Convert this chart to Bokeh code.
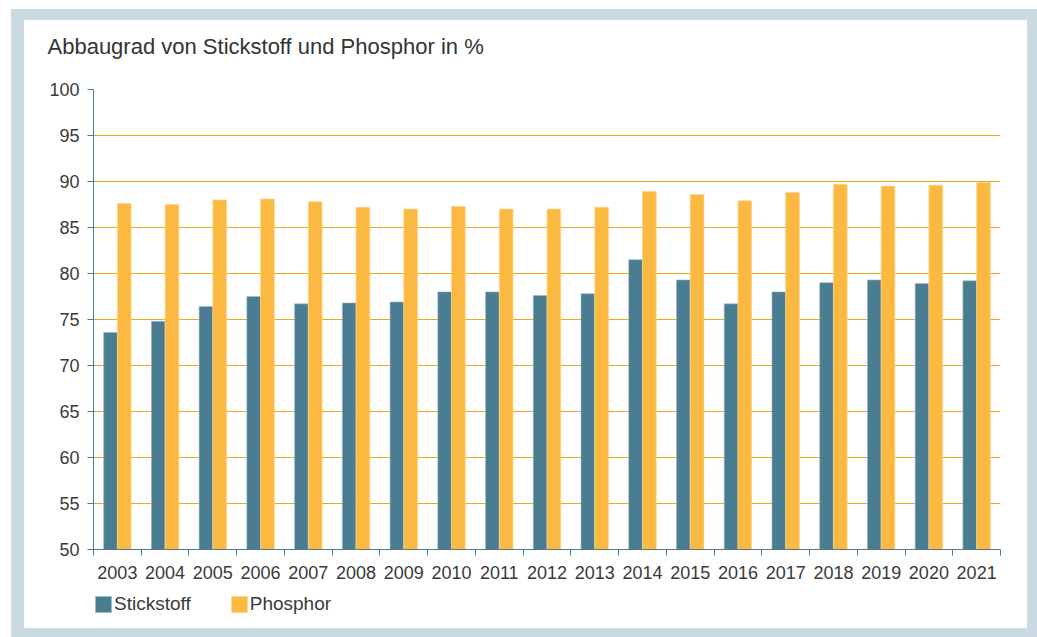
from bokeh.plotting import figure
from bokeh.layouts import column
from bokeh.models import (ColumnDataSource, Range1d, FixedTicker, Legend, LegendItem, Title)
from bokeh.embed import file_html
from bokeh.resources import INLINE

years = ["2003", "2004", "2005", "2006", "2007", "2008", "2009", "2010", "2011", "2012",
         "2013", "2014", "2015", "2016", "2017", "2018", "2019", "2020", "2021"]
stickstoff = [73.6, 74.8, 76.4, 77.5, 76.7, 76.8, 76.9, 78.0, 78.0, 77.6,
              77.8, 81.5, 79.3, 76.7, 78.0, 79.0, 79.3, 78.9, 79.2]
phosphor = [87.6, 87.5, 88.0, 88.1, 87.8, 87.2, 87.0, 87.3, 87.0, 87.0,
            87.2, 88.9, 88.6, 87.9, 88.8, 89.7, 89.5, 89.6, 89.9]
y_ticks = [50, 55, 60, 65, 70, 75, 80, 85, 90, 95, 100]
title_text = "Abbaugrad von Stickstoff und Phosphor in %"
series_names = ["Stickstoff", "Phosphor"]

N_COLOR = "#4a7c92"
P_COLOR = "#fcb941"
N_EDGE = "#9fb9c6"
P_EDGE = "#fdd68a"
AXIS_COLOR = "#4a7c92"
GRID_COLOR = "#f3a51c"
TEXT_COLOR = "#3a3a3a"
FRAME_COLOR = "#c9dae2"
FONT = "Liberation Sans"

idx = list(range(len(years)))
off = 0.144
bw = 0.287
src = ColumnDataSource(dict(
    xn=[i - off for i in idx],
    xp=[i + off for i in idx],
    n=stickstoff,
    p=phosphor,
))

MAIN_H = 589
LEG_H = 637 - MAIN_H

p = figure(width=1037, height=MAIN_H,
           x_range=Range1d(-0.5, len(years) - 0.5),
           y_range=Range1d(50, 100),
           output_backend="svg", toolbar_location=None,
           min_border_left=93, min_border_right=37,
           min_border_top=87, min_border_bottom=MAIN_H - 549)

p.border_fill_color = None
p.background_fill_color = "white"
p.outline_line_color = None

p.vbar(x="xn", top="n", bottom=0, width=bw, source=src,
       fill_color=N_COLOR, line_color=N_EDGE, line_width=1, line_alpha=0.6)
p.vbar(x="xp", top="p", bottom=0, width=bw, source=src,
       fill_color=P_COLOR, line_color=P_EDGE, line_width=1, line_alpha=0.7)

# grid
p.xgrid.grid_line_color = None
p.ygrid.ticker = FixedTicker(ticks=y_ticks)
p.ygrid.grid_line_color = GRID_COLOR
p.ygrid.grid_line_width = 1.2
p.ygrid.level = "underlay"

# y axis
ya = p.yaxis[0]
ya.ticker = FixedTicker(ticks=y_ticks)
ya.axis_line_color = AXIS_COLOR
ya.major_tick_line_color = AXIS_COLOR
ya.major_tick_out = 6
ya.major_tick_in = 0
ya.minor_tick_line_color = None
ya.major_label_standoff = 8
ya.major_label_text_font = FONT
ya.major_label_text_font_size = "18px"
ya.major_label_text_color = TEXT_COLOR

# x axis: labels at centres, tick marks at category boundaries (minor ticks)
xa = p.xaxis[0]
xa.ticker = FixedTicker(ticks=idx, minor_ticks=[i - 0.5 for i in idx] + [len(years) - 0.5])
xa.major_label_overrides = {i: y for i, y in zip(idx, years)}
xa.axis_line_color = AXIS_COLOR
xa.major_tick_line_color = None
xa.major_tick_out = 6
xa.major_tick_in = 0
xa.minor_tick_line_color = AXIS_COLOR
xa.minor_tick_out = 6
xa.minor_tick_in = 0
xa.major_label_standoff = 10
xa.major_label_text_font = FONT
xa.major_label_text_font_size = "18px"
xa.major_label_text_color = TEXT_COLOR

# title
p.add_layout(Title(text=title_text, align="left", offset=-46, standoff=62,
                   text_font=FONT, text_font_size="22px", text_font_style="normal",
                   text_color="#333333"), "above")

# legend strip (separate figure so the legend sits below the axis unclipped)
lf = figure(width=1037, height=LEG_H,
            x_range=Range1d(-0.5, len(years) - 0.5), y_range=Range1d(50, 100),
            output_backend="svg", toolbar_location=None,
            x_axis_location=None, y_axis_location=None,
            min_border_left=0, min_border_right=0,
            min_border_top=0, min_border_bottom=0)
lf.border_fill_color = None
lf.background_fill_color = None
lf.outline_line_color = None
lf.xgrid.grid_line_color = None
lf.ygrid.grid_line_color = None
ln = lf.vbar(x="xn", top="n", bottom=0, width=bw, source=src,
             fill_color=N_COLOR, line_color=N_EDGE, line_alpha=0.6, visible=False)
lp = lf.vbar(x="xp", top="p", bottom=0, width=bw, source=src,
             fill_color=P_COLOR, line_color=P_EDGE, line_alpha=0.7, visible=False)
legend = Legend(items=[LegendItem(label=series_names[0], renderers=[ln]),
                       LegendItem(label=series_names[1], renderers=[lp])],
                location=(0, 22), orientation="horizontal",
                glyph_width=20, glyph_height=20, label_standoff=1, spacing=38,
                padding=0, margin=0, border_line_color=None,
                background_fill_alpha=0, inactive_fill_alpha=0,
                label_text_font=FONT, label_text_font_size="19px",
                label_text_color=TEXT_COLOR)
lf.add_layout(legend)

layout = column(p, lf, spacing=0, styles={
    "background-color": "white",
    "box-shadow": (f"inset 11px 9px 0 0 white, inset 24px 20px 0 0 {FRAME_COLOR}, "
                   f"inset -10px -9px 0 0 {FRAME_COLOR}"),
})

open("out.html", "w").write(file_html(layout, INLINE))
